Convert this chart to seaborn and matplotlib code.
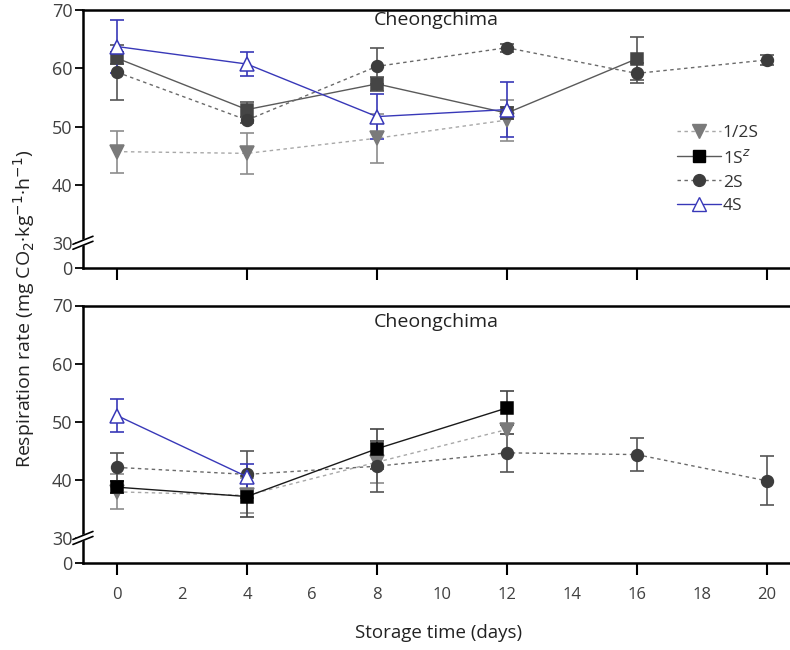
import numpy as np
import pandas as pd
import matplotlib
matplotlib.use("Agg")
import matplotlib.pyplot as plt
from matplotlib.lines import Line2D
import seaborn as sns

sns.set_theme(style="white")
plt.rcParams['font.family'] = ['Open Sans', 'DejaVu Sans']

# ngày bảo quản
days = [0, 4, 8, 12, 16, 20]

# panel trên
half_top = [45.7, 45.4, 48.0, 51.1]
half_top_err = [3.6, 3.5, 4.2, 3.5]
one_top = [61.7, 52.9, 57.3, 52.3, 61.6]
one_top_err = [1.0, 1.3, 1.2, 1.0, 3.7]
two_top = [59.3, 51.1, 60.3, 63.5, 59.1, 61.4]
two_top_err = [4.7, 0.5, 3.1, 0.7, 1.7, 0.8]
four_top = [63.7, 60.7, 51.7, 52.9]
four_top_err = [4.6, 2.1, 3.8, 4.7]

# panel dưới
half_bot = [38.0, 37.4, 43.1, 48.7]
half_bot_err = [3.0, 3.0, 3.6, 0.7]
one_bot = [38.8, 37.2, 45.4, 52.4]
one_bot_err = [1.0, 3.5, 3.4, 3.0]
two_bot = [42.2, 41.0, 42.4, 44.7, 44.4, 39.9]
two_bot_err = [2.4, 4.1, 4.4, 3.3, 2.9, 4.2]
four_bot = [51.1, 40.6]
four_bot_err = [2.8, 2.1]

labels = ['1/2S', '1S$^{z}$', '2S', '4S']
title = 'Cheongchima'

# trục y bị gãy: 0 -> 30 nén lại
G = 4.2


def fwd(y):
    y = np.asarray(y, float)
    return np.where(y < 30, y * G / 30.0, y - 30 + G)


def inv(t):
    t = np.asarray(t, float)
    return np.where(t < G, t * 30.0 / G, t + 30 - G)


BLUE = '#3838b8'
styles = {
    '1/2S': dict(color='#a8a8a8', ls=(0, (2.5, 2.5)), lw=1.0, marker='v', ms=10.5,
                 mfc='#7a7a7a', mec='#7a7a7a', ecol='#8c8c8c'),
    '1S': dict(color='#5a5a5a', ls='-', lw=1.0, marker='s', ms=8,
               mfc='#454545', mec='#454545', ecol='#555555'),
    '2S': dict(color='#6a6a6a', ls=(0, (2.5, 2.5)), lw=1.0, marker='o', ms=8.5,
               mfc='#3c3c3c', mec='#3c3c3c', ecol='#555555'),
    '4S': dict(color=BLUE, ls='-', lw=1.0, marker='^', ms=10.5,
               mfc='white', mec=BLUE, ecol=BLUE),
}


def draw_series(ax, key, y, err, override=None):
    st = dict(styles[key])
    if override:
        st.update(override)
    x = days[:len(y)]
    df = pd.DataFrame({'day': x, 'rate': y})
    ax.errorbar(x, y, yerr=err, fmt='none', ecolor=st['ecol'], elinewidth=1.2,
                capsize=5, capthick=1.2, zorder=2)
    sns.lineplot(data=df, x='day', y='rate', ax=ax, color=st['color'],
                 linestyle=st['ls'], linewidth=st['lw'], marker=st['marker'],
                 markersize=st['ms'], markerfacecolor=st['mfc'],
                 markeredgecolor=st['mec'], markeredgewidth=1.1, zorder=3)


def style_axes(ax, show_xlabels, title_y):
    ax.set_yscale('function', functions=(fwd, inv))
    ax.set_ylim(0, 70)
    ax.set_xlim(-1.05, 20.72)
    ax.set_yticks([0, 30, 40, 50, 60, 70])
    ax.set_yticklabels(['0', '30', '40', '50', '60', '70'])
    ax.yaxis.set_minor_locator(matplotlib.ticker.NullLocator())
    ax.set_xticks([0, 4, 8, 12, 16, 20])
    for s in ['left', 'bottom', 'top']:
        ax.spines[s].set_color('black')
        ax.spines[s].set_linewidth(1.8)
    ax.spines['right'].set_visible(False)
    ax.tick_params(axis='y', which='major', direction='out', length=6, width=1.3,
                   color='black', labelsize=13, labelcolor='#404040', pad=1.5, left=True)
    ax.tick_params(axis='x', which='major', direction='out', length=8.5, width=1.5,
                   color='black', labelsize=12, labelcolor='#404040', pad=9, bottom=True)
    if show_xlabels:
        ax.set_xticklabels([str(d) for d in [0, 4, 8, 12, 16, 20]])
        ax.set_xticks([2, 6, 10, 14, 18], minor=True)
        ax.set_xticklabels(['2', '6', '10', '14', '18'], minor=True)
        ax.tick_params(axis='x', which='minor', length=0, labelsize=12,
                       labelcolor='#404040', pad=17.5, bottom=True)
    else:
        ax.set_xticklabels([])
    ax.set_xlabel('')
    ax.set_ylabel('')
    ax.grid(False)

    # dấu gãy trục
    bbox = ax.get_position()
    fw, fh = ax.figure.get_size_inches() * ax.figure.dpi
    wpx = bbox.width * fw
    hpx = bbox.height * fh
    y30 = fwd(30) / fwd(70)
    dx = 10 / wpx
    dy = 1 / hpx
    poly_x = [-dx, dx, dx, -dx]
    poly_y = [y30 - 1 * dy, y30 + 7 * dy, y30 + 2 * dy, y30 - 6 * dy]
    ax.fill(poly_x, poly_y, color='white', transform=ax.transAxes, clip_on=False, zorder=5)
    ax.plot([-dx, dx], [y30 - 1 * dy, y30 + 7 * dy], color='black', lw=1.2,
            transform=ax.transAxes, clip_on=False, zorder=6)
    ax.plot([-dx, dx], [y30 - 6 * dy, y30 + 2 * dy], color='black', lw=1.2,
            transform=ax.transAxes, clip_on=False, zorder=6)

    ax.text(0.5, title_y, title, transform=ax.transAxes, ha='center', va='center',
            fontsize=14, color='#222222')


fig = plt.figure(figsize=(7.9, 6.5), dpi=100)
ax1 = fig.add_axes([0.105, 0.588, 0.895, 0.397])
ax2 = fig.add_axes([0.105, 0.134, 0.895, 0.396])

draw_series(ax1, '1/2S', half_top, half_top_err)
draw_series(ax1, '1S', one_top, one_top_err)
draw_series(ax1, '2S', two_top, two_top_err)
draw_series(ax1, '4S', four_top, four_top_err)

draw_series(ax2, '1/2S', half_bot, half_bot_err)
draw_series(ax2, '2S', two_bot, two_bot_err)
draw_series(ax2, '1S', one_bot, one_bot_err,
            override=dict(color='#1a1a1a', mfc='black', mec='black', ecol='#444444'))
draw_series(ax2, '4S', four_bot, four_bot_err)

style_axes(ax1, False, 0.96)
style_axes(ax2, True, 0.935)

# chú thích
handles = [
    Line2D([], [], color='#a8a8a8', ls=(0, (2.5, 2.5)), lw=1.0, marker='v', ms=10.5,
           mfc='#7a7a7a', mec='#7a7a7a'),
    Line2D([], [], color='#5a5a5a', ls='-', lw=1.0, marker='s', ms=8,
           mfc='black', mec='black'),
    Line2D([], [], color='#6a6a6a', ls=(0, (2.5, 2.5)), lw=1.0, marker='o', ms=8.5,
           mfc='#3c3c3c', mec='#3c3c3c'),
    Line2D([], [], color=BLUE, ls='-', lw=1.0, marker='^', ms=10.5,
           mfc='white', mec=BLUE),
]
leg = ax1.legend(handles, labels, loc='upper left', bbox_to_anchor=(0.84, 0.555),
                 frameon=False, fontsize=12.5, handlelength=2.55, handletextpad=0.1,
                 labelspacing=0.45, borderpad=0, borderaxespad=0)
for t in leg.get_texts():
    t.set_color('#333333')

fig.text(0.03, 0.525, 'Respiration rate (mg CO$_2$·kg$^{-1}$·h$^{-1}$)',
         rotation=90, ha='center', va='center', fontsize=14, color='#222222')
fig.text(0.555, 0.026, 'Storage time (days)', ha='center', va='center', fontsize=13.5,
         color='#222222')

fig.savefig('out.png', dpi=100)
